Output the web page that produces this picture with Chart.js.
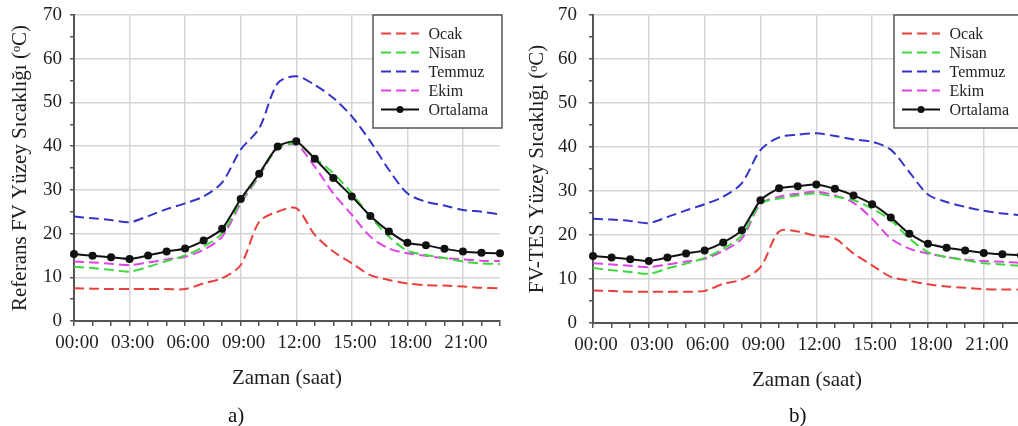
<!DOCTYPE html>
<html>
<head>
<meta charset="utf-8">
<script src="https://cdn.jsdelivr.net/npm/chart.js@4/dist/chart.umd.min.js"></script>
<style>
  html, body { margin: 0; padding: 0; background: #fff; overflow: hidden; }
  body { width: 1018px; height: 426px; position: relative; }
  canvas { position: absolute; top: 0; }
  #chartA { left: 0; }
  #chartB { left: 510px; }
  .caption {
    position: absolute;
    top: 403px;
    font: 21px 'Liberation Serif', 'DejaVu Serif', serif;
    color: #111;
  }
</style>
</head>
<body>
<canvas id="chartA" width="510" height="426"></canvas>
<canvas id="chartB" width="530" height="426"></canvas>
<div class="caption" style="left:228px">a)</div>
<div class="caption" style="left:789px">b)</div>

<script>
const HOURS = [
  "00:00", "01:00", "02:00", "03:00", "04:00", "05:00",
  "06:00", "07:00", "08:00", "09:00", "10:00", "11:00",
  "12:00", "13:00", "14:00", "15:00", "16:00", "17:00",
  "18:00", "19:00", "20:00", "21:00", "22:00", "23:00",
];

const SERIES_NAMES = ["Ocak", "Nisan", "Temmuz", "Ekim", "Ortalama"];

// a) Referans FV
const REF_OCAK = [7.5, 7.4, 7.3, 7.3, 7.3, 7.3, 7.3, 8.6, 9.8, 12.8, 22.7, 25.0, 25.8, 19.7, 15.9, 13.2, 10.5, 9.4, 8.6, 8.2, 8.1, 7.9, 7.6, 7.5];
const REF_NISAN = [12.4, 12.1, 11.7, 11.3, 12.4, 13.7, 15.0, 17.0, 20.1, 27.3, 33.4, 39.5, 40.5, 37.3, 33.8, 29.2, 23.9, 19.3, 16.1, 15.1, 14.4, 13.6, 13.2, 13.0];
const REF_TEMMUZ = [23.9, 23.5, 23.1, 22.6, 24.0, 25.6, 26.9, 28.5, 31.7, 39.2, 44.1, 54.4, 56.0, 54.0, 51.0, 46.8, 41.1, 34.6, 29.2, 27.3, 26.4, 25.4, 25.0, 24.4];
const REF_EKIM = [13.6, 13.4, 13.1, 12.8, 13.4, 14.1, 14.7, 16.3, 19.3, 26.9, 33.1, 39.5, 40.3, 35.3, 29.2, 24.3, 19.3, 16.6, 15.5, 14.9, 14.4, 14.1, 13.8, 13.7];
const REF_ORTALAMA = [15.3, 14.9, 14.6, 14.2, 15.0, 15.9, 16.6, 18.4, 21.1, 27.9, 33.7, 39.9, 41.1, 37.1, 32.7, 28.5, 24.0, 20.5, 17.9, 17.3, 16.5, 15.9, 15.6, 15.5];

// b) FV-TES
const TES_OCAK = [7.4, 7.3, 7.1, 7.1, 7.1, 7.1, 7.3, 8.9, 9.9, 12.7, 20.8, 20.8, 19.8, 19.2, 15.8, 13.1, 10.5, 9.6, 8.8, 8.3, 8.0, 7.7, 7.6, 7.6];
const TES_NISAN = [12.5, 12.0, 11.6, 11.2, 12.4, 13.5, 14.8, 16.9, 19.9, 27.1, 28.3, 29.0, 29.4, 28.7, 27.9, 26.0, 23.4, 19.2, 16.1, 15.0, 14.3, 13.6, 13.3, 13.0];
const TES_TEMMUZ = [23.7, 23.5, 23.2, 22.7, 24.1, 25.6, 27.0, 28.7, 31.8, 39.3, 42.2, 42.8, 43.1, 42.5, 41.7, 41.2, 39.4, 34.3, 29.2, 27.5, 26.4, 25.5, 24.9, 24.5];
const TES_EKIM = [13.6, 13.3, 13.0, 12.7, 13.3, 14.0, 14.6, 16.4, 19.2, 27.0, 28.7, 29.4, 29.8, 29.0, 27.3, 23.7, 19.2, 16.9, 15.8, 15.0, 14.4, 14.1, 13.9, 13.7];
const TES_ORTALAMA = [15.2, 14.9, 14.5, 14.1, 14.9, 15.8, 16.5, 18.3, 21.1, 27.9, 30.6, 31.1, 31.5, 30.5, 29.0, 27.0, 24.0, 20.3, 18.0, 17.1, 16.5, 15.9, 15.6, 15.4];

const COLORS = {
  red: "#e8403a",
  green: "#3cd83c",
  blue: "#3434c8",
  magenta: "#e044e6",
  black: "#111111",
  grid: "#d6d6d6",
  axis: "#555555",
  text: "#1e1e1e",
};

const FONT = "'Liberation Serif', 'DejaVu Serif', serif";

const buildDatasets = (ocak, nisan, temmuz, ekim, ortalama) => {
  const dashed = (label, data, color) => ({
    label,
    data,
    borderColor: color,
    backgroundColor: color,
    borderWidth: 2,
    borderDash: [10, 5],
    pointRadius: 0,
    tension: 0.3,
  });
  return [
    dashed(SERIES_NAMES[0], ocak, COLORS.red),
    dashed(SERIES_NAMES[1], nisan, COLORS.green),
    dashed(SERIES_NAMES[2], temmuz, COLORS.blue),
    dashed(SERIES_NAMES[3], ekim, COLORS.magenta),
    {
      label: SERIES_NAMES[4],
      data: ortalama,
      borderColor: COLORS.black,
      backgroundColor: COLORS.black,
      borderWidth: 2,
      pointRadius: 4,
      pointBackgroundColor: COLORS.black,
      pointBorderWidth: 0,
      tension: 0.2,
      order: -1,
    },
  ];
};

// boxed legend in the top right corner of the plot
const boxLegend = {
  id: "boxLegend",
  afterDraw: (chart) => {
    const { ctx, chartArea } = chart;
    const left = chartArea.right - 127;
    const top = chartArea.top;
    const width = 129;
    const height = 113;

    ctx.save();
    ctx.fillStyle = "#ffffff";
    ctx.fillRect(left, top, width, height);
    ctx.strokeStyle = COLORS.axis;
    ctx.lineWidth = 1.5;
    ctx.strokeRect(left, top, width, height);

    ctx.font = "16px " + FONT;
    ctx.textBaseline = "middle";
    chart.data.datasets.forEach((ds, i) => {
      const y = top + 18.5 + i * 19;
      ctx.strokeStyle = ds.borderColor;
      ctx.lineWidth = 2;
      ctx.setLineDash(ds.borderDash || []);
      ctx.beginPath();
      ctx.moveTo(left + 8, y);
      ctx.lineTo(left + 46, y);
      ctx.stroke();
      ctx.setLineDash([]);
      if (ds.pointRadius) {
        ctx.fillStyle = ds.borderColor;
        ctx.beginPath();
        ctx.arc(left + 27, y, 3.5, 0, Math.PI * 2);
        ctx.fill();
      }
      ctx.fillStyle = COLORS.text;
      ctx.fillText(ds.label, left + 55.5, y + 1);
    });
    ctx.restore();
  },
};

const makeOptions = (p) => ({
  responsive: false,
  animation: false,
  layout: {
    padding: { left: p.padLeft, right: p.padRight, top: 15, bottom: p.padBottom },
  },
  scales: {
    x: {
      type: "category",
      offset: false,
      afterFit: (scale) => { scale.height = 70; },
      grid: {
        color: (c) => (c.index % 3 === 0 ? COLORS.grid : "rgba(0,0,0,0)"),
        lineWidth: 1.5,
        tickColor: COLORS.axis,
        tickLength: 5,
        tickWidth: 1.5,
      },
      border: { display: true, color: COLORS.axis, width: 2 },
      ticks: {
        autoSkip: false,
        maxRotation: 0,
        padding: 6,
        labelOffset: 3,
        color: COLORS.text,
        font: { family: FONT, size: 19 },
        callback: (value, index) => (index % 3 === 0 ? HOURS[index] : ""),
      },
      title: {
        display: true,
        text: "Zaman (saat)",
        color: COLORS.text,
        padding: 0,
        font: { family: FONT, size: 21 },
      },
    },
    y: {
      min: 0,
      max: 70,
      afterFit: (scale) => { scale.width = p.yWidth; },
      grid: {
        color: (c) => (c.tick.value % 10 === 0 ? COLORS.grid : "rgba(0,0,0,0)"),
        lineWidth: 1.5,
        tickColor: COLORS.axis,
        tickLength: 4,
        tickWidth: 1.5,
      },
      border: { display: true, color: COLORS.axis, width: 2 },
      ticks: {
        stepSize: 5,
        autoSkip: false,
        padding: p.tickPad,
        color: COLORS.text,
        // small line height keeps the top label from pushing the plot down
        font: { family: FONT, size: 19, lineHeight: 0.2 },
        callback: (value) => (value % 10 === 0 ? value : ""),
      },
      title: {
        display: true,
        text: p.yTitle,
        color: COLORS.text,
        padding: 0,
        font: { family: FONT, size: 21 },
      },
    },
  },
  plugins: {
    legend: { display: false },
    tooltip: { enabled: false },
  },
});

new Chart(document.getElementById("chartA"), {
  type: "line",
  data: {
    labels: HOURS,
    datasets: buildDatasets(REF_OCAK, REF_NISAN, REF_TEMMUZ, REF_EKIM, REF_ORTALAMA),
  },
  options: makeOptions({
    padLeft: 8, padRight: 10, padBottom: 35, yWidth: 66, tickPad: 8,
    yTitle: "Referans FV Yüzey Sıcaklığı (ᵒC)",
  }),
  plugins: [boxLegend],
});

new Chart(document.getElementById("chartB"), {
  type: "line",
  data: {
    labels: HOURS,
    datasets: buildDatasets(TES_OCAK, TES_NISAN, TES_TEMMUZ, TES_EKIM, TES_ORTALAMA),
  },
  options: makeOptions({
    padLeft: 15, padRight: 19, padBottom: 33, yWidth: 68, tickPad: 12,
    yTitle: "FV-TES Yüzey Sıcaklığı (ᵒC)",
  }),
  plugins: [boxLegend],
});
</script>
</body>
</html>
